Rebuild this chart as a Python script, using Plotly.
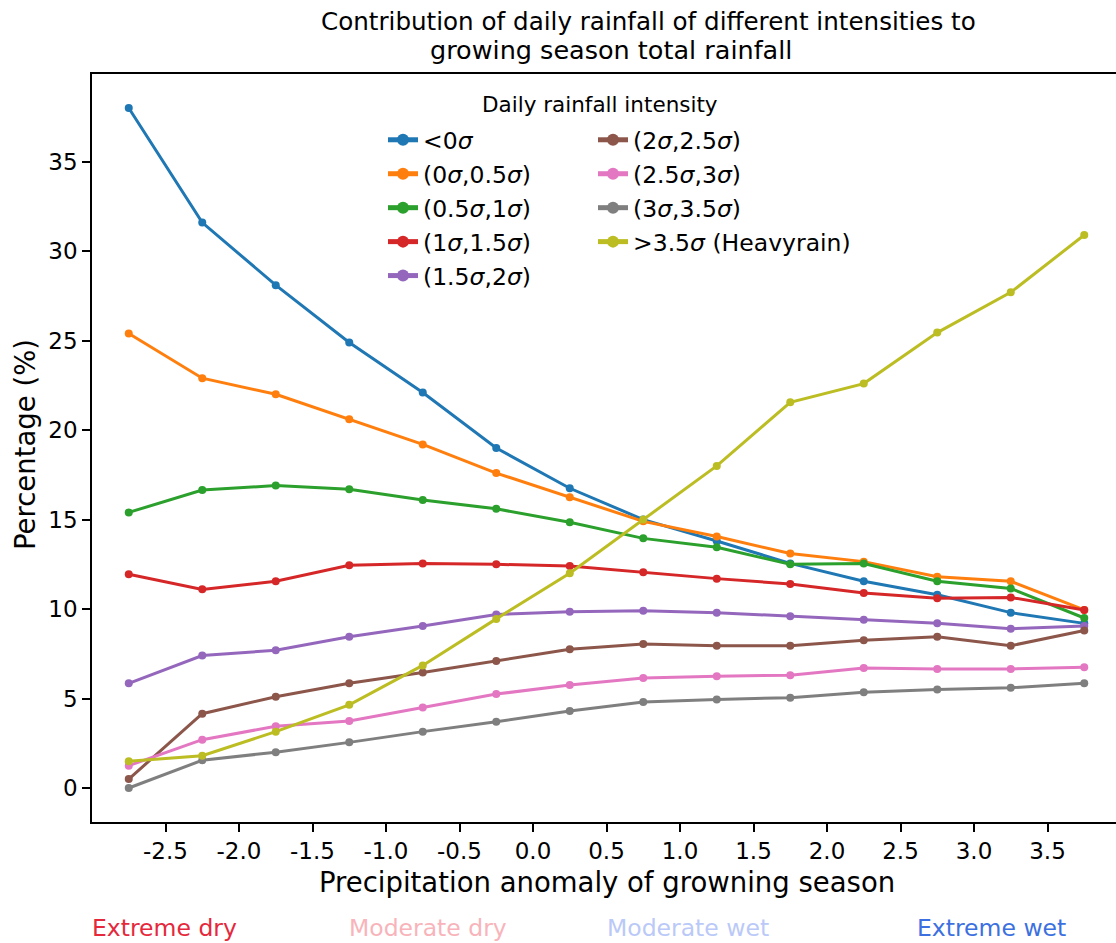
import plotly.graph_objects as go

# ---------------- data ----------------
x_vals = [-2.75, -2.25, -1.75, -1.25, -0.75, -0.25, 0.25, 0.75, 1.25, 1.75, 2.25, 2.75, 3.25, 3.75]

lt0 = [38.0, 31.6, 28.1, 24.9, 22.1, 19.0, 16.75, 15.0, 13.8, 12.55, 11.55, 10.8, 9.8, 9.2]
s0_05 = [25.4, 22.9, 22.0, 20.6, 19.2, 17.6, 16.25, 14.9, 14.05, 13.1, 12.65, 11.8, 11.55, 9.95]
s05_1 = [15.4, 16.65, 16.9, 16.7, 16.1, 15.6, 14.85, 13.95, 13.45, 12.5, 12.55, 11.55, 11.15, 9.5]
s1_15 = [11.95, 11.1, 11.55, 12.45, 12.55, 12.5, 12.4, 12.05, 11.7, 11.4, 10.9, 10.6, 10.65, 9.95]
s15_2 = [5.85, 7.4, 7.7, 8.45, 9.05, 9.7, 9.85, 9.9, 9.8, 9.6, 9.4, 9.2, 8.9, 9.05]
s2_25 = [0.5, 4.15, 5.1, 5.85, 6.45, 7.1, 7.75, 8.05, 7.95, 7.95, 8.25, 8.45, 7.95, 8.8]
s25_3 = [1.25, 2.7, 3.45, 3.75, 4.5, 5.25, 5.75, 6.15, 6.25, 6.3, 6.7, 6.65, 6.65, 6.75]
s3_35 = [0.0, 1.55, 2.0, 2.55, 3.15, 3.7, 4.3, 4.8, 4.95, 5.05, 5.35, 5.5, 5.6, 5.85]
gt35 = [1.5, 1.8, 3.15, 4.65, 6.85, 9.45, 12.0, 15.0, 18.0, 21.55, 22.6, 25.45, 27.7, 30.9]

series_names = ["&lt;0<i>σ</i>", "(0<i>σ</i>,0.5<i>σ</i>)", "(0.5<i>σ</i>,1<i>σ</i>)",
                "(1<i>σ</i>,1.5<i>σ</i>)", "(1.5<i>σ</i>,2<i>σ</i>)", "(2<i>σ</i>,2.5<i>σ</i>)",
                "(2.5<i>σ</i>,3<i>σ</i>)", "(3<i>σ</i>,3.5<i>σ</i>)", "&gt;3.5<i>σ</i> (Heavyrain)"]
series_values = [lt0, s0_05, s05_1, s1_15, s15_2, s2_25, s25_3, s3_35, gt35]
colors = ["#1f77b4", "#ff7f0e", "#2ca02c", "#d62728", "#9467bd",
          "#8c564b", "#e377c2", "#7f7f7f", "#bcbd22"]

x_tickvals = [-2.5, -2.0, -1.5, -1.0, -0.5, 0.0, 0.5, 1.0, 1.5, 2.0, 2.5, 3.0, 3.5]
x_ticktext = ["-2.5", "-2.0", "-1.5", "-1.0", "-0.5", "0.0", "0.5", "1.0", "1.5", "2.0", "2.5", "3.0", "3.5"]
y_tickvals = [0, 5, 10, 15, 20, 25, 30, 35]

category_labels = ["Extreme dry", "Moderate dry", "Moderate wet", "Extreme wet"]
category_colors = ["#e5283c", "#f8b4ba", "#bac9f8", "#3c70e0"]

# ---------------- layout geometry (pixels) ----------------
W, H = 1116, 943
L, T, B_PX = 92, 74, 822
PW = W - L
PH = B_PX - T
FONT = "DejaVu Sans"


def px_x(px):
    return (px - L) / PW


def px_y(py):
    return (B_PX - py) / PH


fig = go.Figure()
for i, (name, vals, col) in enumerate(zip(series_names, series_values, colors)):
    fig.add_trace(go.Scatter(
        x=x_vals, y=vals, name=name, mode="lines+markers",
        line=dict(color=col, width=3),
        marker=dict(color=col, size=8),
        legend="legend" if i < 5 else "legend2",
        legendgroup="g%d" % i,
    ))

annotations = [
    dict(text="Contribution of daily rainfall of different intensities to", x=px_x(648), y=px_y(21),
         xref="paper", yref="paper", showarrow=False, font=dict(family=FONT, size=24.6, color="black"),
         xanchor="center", yanchor="middle"),
    dict(text="growing season total rainfall", x=px_x(611), y=px_y(50),
         xref="paper", yref="paper", showarrow=False, font=dict(family=FONT, size=25.5, color="black"),
         xanchor="center", yanchor="middle"),
    dict(text="Precipitation anomaly of growning season", x=px_x(607), y=px_y(882),
         xref="paper", yref="paper", showarrow=False, font=dict(family=FONT, size=27.5, color="black"),
         xanchor="center", yanchor="middle"),
    dict(text="Percentage (%)", x=px_x(25), y=px_y(445), textangle=-90,
         xref="paper", yref="paper", showarrow=False, font=dict(family=FONT, size=27.5, color="black"),
         xanchor="center", yanchor="middle"),
    dict(text="Daily rainfall intensity", x=px_x(600), y=px_y(104),
         xref="paper", yref="paper", showarrow=False, font=dict(family=FONT, size=21.5, color="black"),
         xanchor="center", yanchor="middle"),
]
cat_centers = [164, 428, 688, 991]
for lab, colr, cx in zip(category_labels, category_colors, cat_centers):
    annotations.append(dict(text=lab, x=px_x(cx), y=px_y(928), xref="paper", yref="paper",
                            showarrow=False, font=dict(family=FONT, size=23.5, color=colr),
                            xanchor="center", yanchor="middle"))

legend_common = dict(font=dict(family=FONT, size=23.5, color="black"), bgcolor="rgba(0,0,0,0)",
                     xanchor="left", yanchor="top", traceorder="grouped",
                     itemsizing="constant", tracegroupgap=0.4)

fig.update_layout(
    width=W, height=H,
    margin=dict(l=L, r=0, t=T, b=H - B_PX, pad=0),
    paper_bgcolor="white", plot_bgcolor="white",
    font=dict(family=FONT, size=23, color="black"),
    showlegend=True,
    legend=dict(x=px_x(383), y=px_y(118), **legend_common),
    legend2=dict(x=px_x(593), y=px_y(118), **legend_common),
    annotations=annotations,
    xaxis=dict(range=[-3.0, -3.0 + PW / 147.0], tickmode="array", tickvals=x_tickvals, ticktext=x_ticktext,
               ticks="outside", ticklen=8, tickwidth=1.5, tickcolor="black",
               showline=True, linecolor="black", linewidth=1.5, mirror=True,
               showgrid=False, zeroline=False, tickfont=dict(family=FONT, size=23, color="black")),
    yaxis=dict(range=[-1.9, 39.9], tickmode="array", tickvals=y_tickvals,
               ticks="outside", ticklen=8, tickwidth=1.5, tickcolor="black",
               showline=True, linecolor="black", linewidth=1.5, mirror=False,
               showgrid=False, zeroline=False, tickfont=dict(family=FONT, size=23, color="black")),
)

fig.write_html("out.html")
